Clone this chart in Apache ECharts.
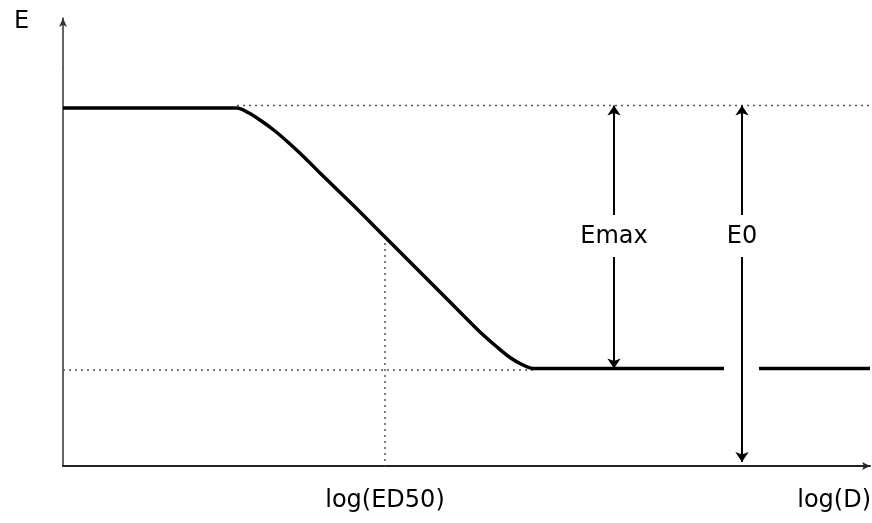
<!DOCTYPE html>
<html>
<head>
<meta charset="utf-8">
<script src="https://cdn.jsdelivr.net/npm/echarts@6/dist/echarts.min.js"></script>
<style>
html,body{margin:0;padding:0;background:#fff;}
#chart{width:872px;height:523px;}
</style>
</head>
<body>
<div id="chart"></div>
<script>
// ---- data (schematic units: log dose on x, effect E on y) ----
var xMax = 80.7;
var yMax = 44.8;
var curveX = [0, 17.4, 18.5, 19.7, 21.2, 22.7, 24.2, 25.7, 29.0, 32.2, 35.7, 39.0, 41.7, 43.4, 44.7, 45.9, 47.0, 66.1];
var curveY = [35.8, 35.8, 35.35, 34.6, 33.5, 32.2, 30.8, 29.3, 26.1, 22.9, 19.4, 16.1, 13.4, 11.9, 10.85, 10.15, 9.75, 9.75];
var tailX = [69.6, 80.7];
var tailY = [9.75, 9.75];
var E0Level = 36.05;
var EminLevel = 9.6;
var ED50 = 32.2;
var ED50E = 22.9;
var topDottedX = [17.4, 80.7];
var bottomDottedX = [0, 47.0];
var emaxX = 55.1;
var e0X = 67.9;
var labelGapTop = 25.1;
var labelGapBottom = 20.9;
var labelY = 22.9;
var e0ArrowBottom = 0.4;
var yTickValue = 39.9;
var markLabels = ['Emax', 'E0'];
var axisTexts = ['E', 'log(ED50)', 'log(D)'];

function zip(xs, ys) { return xs.map(function (x, i) { return [x, ys[i]]; }); }

var FONT = '"DejaVu Sans", "Liberation Sans", sans-serif';
var dotted = { color: '#555', width: 1.5, type: [2, 4] };

var chart = echarts.init(document.getElementById('chart'), null, { renderer: 'canvas' });
chart.setOption({
  animation: false,
  backgroundColor: '#ffffff',
  grid: { left: 63, right: 2, top: 18, bottom: 57 },
  xAxis: {
    type: 'value', min: 0, max: xMax,
    axisLine: { show: true, symbol: ['none', 'arrow'], symbolSize: [6, 8], lineStyle: { color: '#222', width: 2 } },
    axisTick: { show: false }, axisLabel: { show: false }, splitLine: { show: false }
  },
  yAxis: {
    type: 'value', min: 0, max: yMax,
    axisLine: { show: true, symbol: ['none', 'arrow'], symbolSize: [6, 9], lineStyle: { color: '#333', width: 1.5 } },
    axisTick: { show: false }, axisLabel: { show: false }, splitLine: { show: false }
  },
  series: [
    { type: 'line', data: zip(topDottedX, [E0Level, E0Level]), symbol: 'none', lineStyle: dotted, z: 1 },
    { type: 'line', data: zip(bottomDottedX, [EminLevel, EminLevel]), symbol: 'none', lineStyle: dotted, z: 1 },
    { type: 'line', data: [[ED50, ED50E], [ED50, 0]], symbol: 'none', lineStyle: dotted, z: 1 },
    { type: 'line', data: zip(curveX, curveY), symbol: 'none', smooth: 0.3,
      lineStyle: { color: '#000', width: 3.5, cap: 'butt', join: 'round' }, z: 3 },
    { type: 'line', data: zip(tailX, tailY), symbol: 'none', lineStyle: { color: '#000', width: 3.5 }, z: 3 },
    { type: 'lines', coordinateSystem: 'cartesian2d', symbol: ['none', 'arrow'], symbolSize: [7, 10],
      lineStyle: { color: '#000', width: 2, opacity: 1 }, z: 4,
      data: [
        { coords: [[emaxX, labelGapTop], [emaxX, E0Level]] },
        { coords: [[emaxX, labelGapBottom], [emaxX, curveY[curveY.length - 1]]] },
        { coords: [[e0X, labelGapTop], [e0X, E0Level]] },
        { coords: [[e0X, labelGapBottom], [e0X, e0ArrowBottom]] }
      ] },
    { type: 'lines', coordinateSystem: 'cartesian2d', symbol: 'none',
      lineStyle: { color: '#444', width: 1, opacity: 1 }, z: 4,
      data: [{ coords: [[-0.35, yTickValue], [0, yTickValue]] }] },
    { type: 'scatter', symbolSize: 1, z: 5, itemStyle: { opacity: 0 },
      data: [{ name: markLabels[0], value: [emaxX, labelY] }, { name: markLabels[1], value: [e0X, labelY] }],
      label: { show: true, position: 'inside', formatter: '{b}', color: '#000', opacity: 1, fontSize: 24, fontFamily: FONT } }
  ],
  graphic: [
    { type: 'text', left: 14, top: 10, style: { text: axisTexts[0], font: '24px ' + FONT, fill: '#000' } },
    { type: 'text', x: 385, y: 501, style: { text: axisTexts[1], font: '24px ' + FONT, fill: '#000', align: 'center', verticalAlign: 'middle' } },
    { type: 'text', x: 871, y: 501, style: { text: axisTexts[2], font: '24px ' + FONT, fill: '#000', align: 'right', verticalAlign: 'middle' } }
  ]
});
</script>
</body>
</html>
